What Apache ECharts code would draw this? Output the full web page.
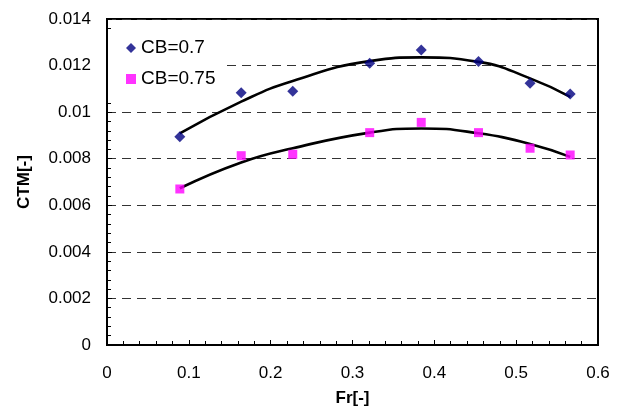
<!DOCTYPE html>
<html>
<head>
<meta charset="utf-8">
<script src="https://cdn.jsdelivr.net/npm/echarts@6/dist/echarts.min.js"></script>
<style>html,body{margin:0;padding:0;background:#fff}#c{width:622px;height:407px}</style>
</head>
<body>
<div id="c"></div>
<script>
const fr = [0.089, 0.164, 0.227, 0.321, 0.384, 0.454, 0.517, 0.566];
const cb070 = [0.00894, 0.01083, 0.0109, 0.0121, 0.01267, 0.01217, 0.01124, 0.01078];
const cb075 = [0.0067, 0.00813, 0.00819, 0.00912, 0.00956, 0.00912, 0.00845, 0.00816];
const trend070 = [0.00909, 0.01045, 0.01134, 0.01219, 0.01235, 0.01216, 0.01145, 0.01066];
const trend075 = [0.00673, 0.00784, 0.00845, 0.00912, 0.0093, 0.00909, 0.00863, 0.00808];
const seriesNames = ['CB=0.7', 'CB=0.75'];
const xTitle = 'Fr[-]';
const yTitle = 'CTM[-]';

const pairs = (xs, ys) => xs.map((x, i) => [x, ys[i]]);
const font = '"Liberation Sans", Arial, sans-serif';
const chart = echarts.init(document.getElementById('c'));
chart.setOption({
  animation: false,
  backgroundColor: '#fff',
  textStyle: { fontFamily: font, color: '#000' },
  grid: { left: 107, right: 24, top: 19, bottom: 62, show: true, borderColor: '#000', borderWidth: 2, backgroundColor: 'transparent', outerBoundsMode: 'none', containLabel: false },
  legend: {
    data: [{ name: seriesNames[0], icon: 'diamond' }, { name: seriesNames[1], icon: 'rect' }],
    orient: 'vertical', left: 108, top: 30,
    padding: [8, 11, 8, 18],
    backgroundColor: '#fff',
    itemWidth: 10, itemHeight: 10, itemGap: 11,
    textStyle: { fontSize: 19, fontFamily: font, color: '#000', lineHeight: 20 }
  },
  xAxis: {
    type: 'value', min: 0, max: 0.6, interval: 0.1,
    name: xTitle, nameLocation: 'middle', nameGap: 45,
    nameTextStyle: { fontSize: 17, fontWeight: 'bold', color: '#000', fontFamily: font },
    axisLine: { show: true, onZero: false, lineStyle: { color: '#000', width: 2 } },
    axisTick: { show: true, inside: true, length: 5, lineStyle: { color: '#000', width: 1 } },
    minorTick: { show: true, splitNumber: 5, length: 4, lineStyle: { color: '#000', width: 1 } },
    axisLabel: { fontSize: 17, color: '#000', margin: 20, fontFamily: font, formatter: v => String(+v.toFixed(1)) },
    splitLine: { show: false }
  },
  yAxis: {
    type: 'value', min: 0, max: 0.014, interval: 0.002,
    name: yTitle, nameLocation: 'middle', nameGap: 74, nameRotate: 90,
    nameTextStyle: { fontSize: 17, fontWeight: 'bold', color: '#000', fontFamily: font },
    axisLine: { show: true, onZero: false, lineStyle: { color: '#000', width: 2 } },
    axisTick: { show: true, inside: true, length: 5, lineStyle: { color: '#000', width: 1 } },
    minorTick: { show: true, splitNumber: 5, length: 4, lineStyle: { color: '#000', width: 1 } },
    axisLabel: { fontSize: 17, color: '#000', margin: 16, fontFamily: font, formatter: v => String(+v.toFixed(3)) },
    splitLine: { show: true, lineStyle: { color: '#333', width: 1, type: [9, 6] } }
  },
  series: [
    { name: 'trend1', type: 'line', data: pairs(fr, trend070), smooth: true, symbol: 'none', lineStyle: { color: '#000', width: 2.6 }, z: 2 },
    { name: 'trend2', type: 'line', data: pairs(fr, trend075), smooth: true, symbol: 'none', lineStyle: { color: '#000', width: 2.6 }, z: 2 },
    { name: seriesNames[0], type: 'scatter', data: pairs(fr, cb070), symbol: 'diamond', symbolSize: 11, itemStyle: { color: '#000080' }, z: 3 },
    { name: seriesNames[1], type: 'scatter', data: pairs(fr, cb075), symbol: 'rect', symbolSize: 9, itemStyle: { color: '#ff00ff' }, z: 3 }
  ]
});
</script>
</body>
</html>
